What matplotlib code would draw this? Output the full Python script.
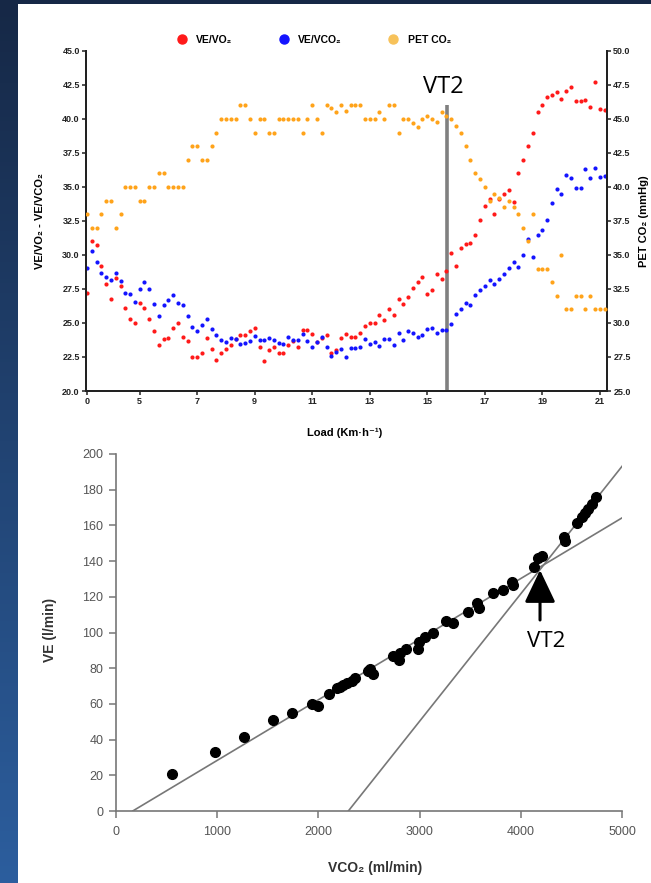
import numpy as np
import matplotlib
matplotlib.use('Agg')
import matplotlib.pyplot as plt
from matplotlib.colors import LinearSegmentedColormap
from matplotlib.lines import Line2D
from matplotlib.patches import Rectangle

plt.rcParams['font.family'] = ['Liberation Sans', 'DejaVu Sans']

# ---- top panel: ventilatory equivalents vs load (one value per sample) ----
LOAD_TICK_POS    = [0, 11, 23, 35, 47, 59, 71, 83, 95, 107]
LOAD_TICK_LABELS = ['0', '5', '7', '9', '11', '13', '15', '17', '19', '21']

VE_VO2 = [27.2, 31.0, 30.7, 29.2, 27.9, 26.8, 28.3, 27.7, 26.1, 25.3,
          25.0, 26.5, 26.1, 25.3, 24.4, 23.4, 23.8, 23.9, 24.6, 25.0,
          24.0, 23.7, 22.5, 22.5, 22.8, 23.9, 23.1, 22.3, 22.8, 23.1,
          23.4, 23.8, 24.1, 24.1, 24.4, 24.6, 23.2, 22.2, 23.0, 23.2,
          22.8, 22.8, 23.4, 23.7, 23.2, 24.5, 24.5, 24.2, 23.6, 23.9,
          24.1, 22.8, 23.0, 23.9, 24.2, 24.0, 24.0, 24.3, 24.8, 25.0,
          25.0, 25.6, 25.2, 26.0, 25.6, 26.8, 26.4, 26.9, 27.6, 28.0,
          28.4, 27.1, 27.4, 28.6, 28.2, 28.85, 30.15, 29.2, 30.5, 30.8,
          30.9, 31.5, 32.6, 33.6, 34.1, 33.0, 34.1, 34.5, 34.75, 33.9,
          36.0, 37.0, 38.0, 39.0, 40.5, 41.05, 41.6, 41.75, 42.0, 41.5,
          42.05, 42.35, 41.3, 41.3, 41.4, 40.9, 42.75, 40.75, 40.65]

VE_VCO2 = [29.07, 30.27, 29.46, 28.7, 28.38, 28.16, 28.65, 28.06, 27.23, 27.13,
           26.54, 27.52, 27.99, 27.5, 26.37, 25.54, 26.35, 26.7, 27.03, 26.5,
           26.3, 25.49, 24.7, 24.4, 24.88, 25.3, 24.53, 24.1, 23.75, 23.57,
           23.9, 23.8, 23.48, 23.55, 23.68, 24.07, 23.78, 23.75, 23.9, 23.75,
           23.5, 23.45, 24.0, 23.75, 23.75, 24.17, 23.68, 23.24, 23.6, 23.95,
           23.24, 22.6, 22.9, 23.07, 22.5, 23.13, 23.13, 23.2, 23.82, 23.48,
           23.6, 23.33, 23.8, 23.8, 23.35, 24.26, 23.72, 24.4, 24.29, 23.97,
           24.12, 24.56, 24.6, 24.3, 24.45, 24.45, 24.9, 25.68, 26.0, 26.45,
           26.3, 27.06, 27.43, 27.7, 28.14, 27.9, 28.2, 28.58, 29.02, 29.46,
           29.12, 30.0, 31.18, 29.88, 31.47, 31.86, 32.6, 33.85, 34.82, 34.5,
           35.88, 35.64, 34.93, 34.93, 36.32, 35.66, 36.4, 35.77, 35.8]

PET_CO2 = [38, 37, 37, 38, 39, 39, 37, 38, 40, 40,
           40, 39, 39, 40, 40, 41, 41, 40, 40, 40,
           40, 42, 43, 43, 42, 42, 43, 44, 45, 45,
           45, 45, 46, 46, 45, 44, 45, 45, 44, 44,
           45, 45, 45, 45, 45, 44, 45, 46, 45, 44,
           46, 45.8, 45.5, 46, 45.6, 46, 46, 46, 45, 45,
           45, 45.5, 45, 46, 46, 44, 45, 45, 44.7, 44.4,
           45, 45.2, 45, 44.8, 45.5, 45.2, 45, 44.5, 44, 43,
           42, 41, 40.6, 40, 39, 39.5, 39.2, 38.5, 39, 38.5,
           38, 37, 36, 38, 34, 34, 34, 33, 32, 35,
           31, 31, 32, 32, 31, 32, 31, 31, 31]

VT2_POS = 75.2

# ---- bottom panel: VE vs VCO2 ----
VCO2 = [559, 980, 1270, 1550, 1740, 1941, 1994, 2110, 2182, 2214,
        2240, 2280, 2330, 2362, 2494, 2510, 2543, 2740, 2797, 2807,
        2866, 2981, 2994, 3053, 3135, 3261, 3327, 3481, 3564, 3590,
        3728, 3820, 3915, 3925, 4129, 4172, 4205, 4426, 4435, 4557,
        4600, 4633, 4666, 4700, 4741]
VE = [20.5, 33.2, 41.5, 51.0, 55.0, 59.8, 58.6, 65.8, 68.7, 69.3,
      70.6, 71.6, 73.0, 74.3, 78.6, 79.5, 76.6, 86.8, 84.6, 88.7,
      90.8, 90.6, 94.8, 97.6, 100.0, 106.4, 105.2, 111.6, 116.4, 113.5,
      122.3, 123.9, 128.5, 126.5, 136.9, 141.6, 142.9, 153.7, 151.3, 161.5,
      164.5, 166.8, 169.0, 172.0, 176.1]
FIT1_X, FIT1_Y = [168, 5000], [0, 164.3]
FIT2_X, FIT2_Y = [2296, 5000], [0, 193.3]
VT2_VCO2, VT2_VE = 4188, 135

RED, BLUE, ORANGE = '#ff1a1a', '#1414ff', '#ffa31a'

W, H = 651, 883
fig = plt.figure(figsize=(W / 100, H / 100), dpi=100)

# background: navy gradient strip + white panel
bg = fig.add_axes([0, 0, 1, 1], zorder=-10)
bg.axis('off')
cmap = LinearSegmentedColormap.from_list('navy', ['#162846', '#2c5e9e'])
bg.imshow(np.linspace(0, 1, 256).reshape(-1, 1), aspect='auto', cmap=cmap,
          extent=[0, 1, 0, 1], origin='upper')
bg.add_patch(Rectangle((18 / W, 0), 1 - 18 / W, 1 - 4 / H, transform=bg.transAxes,
                       facecolor='white', edgecolor='none'))
bg.set_xlim(0, 1)
bg.set_ylim(0, 1)

# ---------------- top panel ----------------
ax1 = fig.add_axes([86 / W, 1 - 391 / H, 521 / W, 340 / H])
idx = np.arange(len(VE_VO2))
ax1.scatter(idx, VE_VO2, s=9, color=RED, linewidths=0, zorder=3)
ax1.scatter(idx, VE_VCO2, s=9, color=BLUE, linewidths=0, zorder=3)
ax1.plot([VT2_POS, VT2_POS], [20, 41.0], color='#808080', lw=2.6, zorder=2,
         solid_capstyle='butt')
ax1.text(VT2_POS - 0.8, 42.37, 'VT2', fontsize=17, family=['Open Sans', 'DejaVu Sans'],
         ha='center', va='center')
ax1.set_xlim(-0.2, 108.5)
ax1.set_ylim(20, 45)
ax1.set_yticks(np.arange(20, 45.1, 2.5))
ax1.set_yticklabels([f'{v:.1f}' for v in np.arange(20, 45.1, 2.5)])
ax1.set_xticks(LOAD_TICK_POS)
ax1.set_xticklabels(LOAD_TICK_LABELS)

ax2 = ax1.twinx()
ax2.scatter(idx, PET_CO2, s=9, color=ORANGE, linewidths=0, zorder=3)
ax2.set_ylim(25, 50)
ax2.set_yticks(np.arange(25, 50.1, 2.5))
ax2.set_yticklabels([f'{v:.1f}' for v in np.arange(25, 50.1, 2.5)])

for a in (ax1, ax2):
    a.spines['top'].set_visible(False)
    for s in ('left', 'right', 'bottom'):
        a.spines[s].set_linewidth(1.4)
        a.spines[s].set_color('#222222')
    a.tick_params(length=3, width=1.1, labelsize=6.5, pad=1.5, colors='#222222')
    for lab in a.get_xticklabels() + a.get_yticklabels():
        lab.set_fontweight('bold')

ax1.set_ylabel('VE/VO₂ - VE/VCO₂', fontsize=8, fontweight='bold')
ax1.yaxis.set_label_coords(-0.079, 0.5)
ax2.set_ylabel('PET CO₂ (mmHg)', fontsize=8, fontweight='bold')
ax2.yaxis.set_label_coords(1.062, 0.5)
ax1.set_xlabel('Load (Km·h⁻¹)', fontsize=8, fontweight='bold')
ax1.xaxis.set_label_coords(0.497, -0.108)

handles = [Line2D([], [], ls='none', marker='o', ms=6.5, color=RED, label='VE/VO₂'),
           Line2D([], [], ls='none', marker='o', ms=6.5, color=BLUE, label='VE/VCO₂'),
           Line2D([], [], ls='none', marker='o', ms=6.5, color='#f7c25a', label='PET CO₂')]
leg = ax1.legend(handles=handles, ncol=3, loc='center', bbox_to_anchor=(0.432, 1.032),
                 frameon=False, handletextpad=0.4, columnspacing=3.9,
                 prop={'size': 7.5, 'weight': 'bold'})

# ---------------- bottom panel ----------------
ax3 = fig.add_axes([115.7 / W, 1 - 811 / H, 506.6 / W, 357 / H])
ax3.plot(FIT1_X, FIT1_Y, color='#777777', lw=1.2, zorder=2)
ax3.plot(FIT2_X, FIT2_Y, color='#777777', lw=1.2, zorder=2)
ax3.plot(VCO2, VE, 'o', color='black', ms=7, zorder=3)
ax3.annotate('', xy=(VT2_VCO2, VT2_VE), xytext=(VT2_VCO2, 107),
             arrowprops=dict(arrowstyle='-|>,head_length=2.0,head_width=0.95',
                             mutation_scale=10, color='black', lw=2.2,
                             shrinkA=0, shrinkB=0), zorder=4)
ax3.text(4250, 94.7, 'VT2', fontsize=16, family=['Open Sans', 'DejaVu Sans'],
         ha='center', va='center')
ax3.set_xlim(0, 5000)
ax3.set_ylim(0, 200)
ax3.set_xticks(range(0, 5001, 1000))
ax3.set_yticks(range(0, 201, 20))
ax3.spines['top'].set_visible(False)
ax3.spines['right'].set_visible(False)
for s in ('left', 'bottom'):
    ax3.spines[s].set_color('#777777')
    ax3.spines[s].set_linewidth(1.2)
ax3.tick_params(direction='out', length=5, width=1.1, color='#777777',
                labelcolor='#555555', labelsize=9)
ax3.tick_params(axis='x', pad=6)
ax3.tick_params(axis='y', pad=4)
ax3.set_ylabel('VE (l/min)', fontsize=10, fontweight='bold', color='#333333')
ax3.yaxis.set_label_coords(-0.115, 0.507)
ax3.set_xlabel('VCO₂ (ml/min)', fontsize=10, fontweight='bold', color='#333333')
ax3.xaxis.set_label_coords(0.512, -0.14)

fig.savefig('out.png', dpi=100)
